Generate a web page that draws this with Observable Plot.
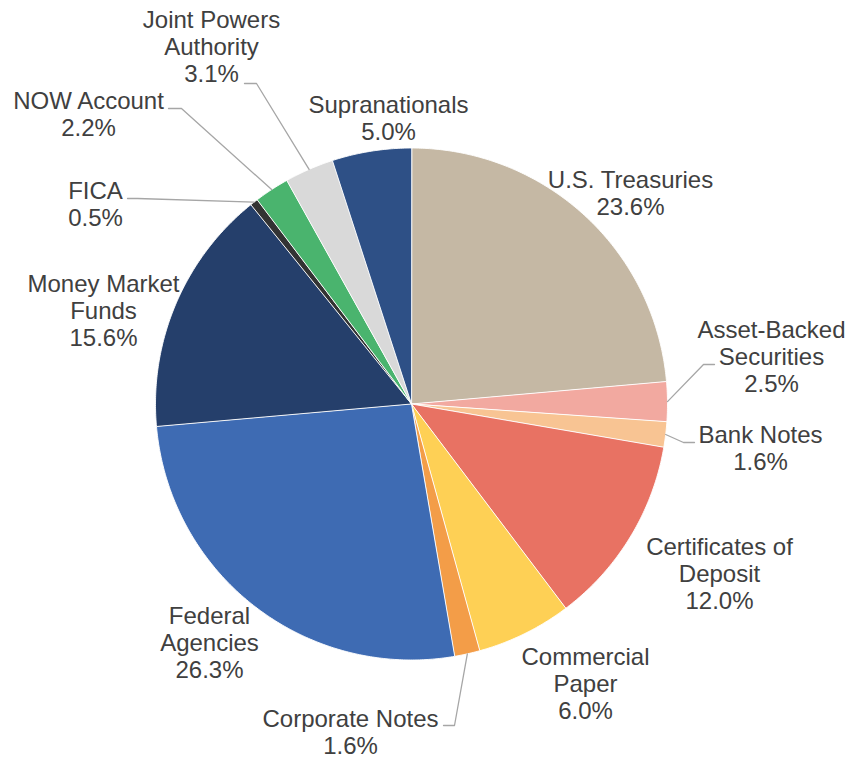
<!DOCTYPE html>
<html>
<head>
<meta charset="utf-8">
<script src="https://cdn.jsdelivr.net/npm/d3@7"></script>
<script src="https://cdn.jsdelivr.net/npm/@observablehq/plot@0.6"></script>
<style>
  html, body { margin: 0; padding: 0; background: #ffffff; }
  #chart svg { display: block; }
</style>
</head>
<body>
<div id="chart"></div>
<script>
// ---- Data ----
const categories = [
  "U.S. Treasuries", "Asset-Backed Securities", "Bank Notes", "Certificates of Deposit",
  "Commercial Paper", "Corporate Notes", "Federal Agencies", "Money Market Funds",
  "FICA", "NOW Account", "Joint Powers Authority", "Supranationals"
];
const shares = [23.6, 2.5, 1.6, 12.0, 6.0, 1.6, 26.3, 15.6, 0.5, 2.2, 3.1, 5.0];
const labelLines = [
  ["U.S. Treasuries"], ["Asset-Backed", "Securities"], ["Bank Notes"], ["Certificates of", "Deposit"],
  ["Commercial", "Paper"], ["Corporate Notes"], ["Federal", "Agencies"], ["Money Market", "Funds"],
  ["FICA"], ["NOW Account"], ["Joint Powers", "Authority"], ["Supranationals"]
];

// ---- Styles / layout ----
const colors = [
  "#C5B8A4", "#F2A9A0", "#F8C493", "#E87263", "#FED055", "#F39D48",
  "#3E6BB3", "#253F6B", "#333333", "#4AB46E", "#D9D9D9", "#2E5086"
];
const W = 848, H = 757;
const cx = 411, cy = 403.5, R = 256;
// label anchor: [centerX, lastBaselineY]
const labelPos = [
  [630, 214], [771, 391], [760, 469], [719, 608],
  [585, 718], [350, 753], [209, 677], [103, 345],
  [95, 225], [88, 135], [211, 81], [388, 139]
];
// leader lines: [startX, startY, elbowX, elbowY] (end computed at slice edge)
const leaderLayout = {
  1: [714, 364, 703, 364],
  2: [694, 442, 683, 442],
  5: [443, 725, 454, 725],
  8: [127, 198, 137, 198],
  9: [168, 108, 181, 108],
  10: [244, 83, 256, 83]
};

// ---- Build geometry ----
const arcs = d3.pie().sort(null).value(d => d)(shares);
const pt = (a, r) => [cx + r * Math.sin(a), cy - r * Math.cos(a)];

const slicePts = [];
arcs.forEach((a, i) => {
  const name = categories[i];
  slicePts.push({name, x: cx, y: cy});
  const n = Math.max(4, Math.ceil((a.endAngle - a.startAngle) / (Math.PI / 360)));
  for (let k = 0; k <= n; k++) {
    const ang = a.startAngle + (a.endAngle - a.startAngle) * k / n;
    const [x, y] = pt(ang, R);
    slicePts.push({name, x, y});
  }
});

const fmt = d3.format(".1f");
const labels = categories.map((c, i) => ({
  name: c,
  x: labelPos[i][0],
  y: labelPos[i][1],
  text: labelLines[i].join("\n") + "\n" + fmt(shares[i]) + "%"
}));

const leaders = [];
Object.entries(leaderLayout).forEach(([k, L]) => {
  const i = +k;
  const mid = (arcs[i].startAngle + arcs[i].endAngle) / 2;
  const [ex, ey] = pt(mid, R);
  leaders.push({id: i, x: L[0], y: L[1]});
  leaders.push({id: i, x: L[2], y: L[3]});
  leaders.push({id: i, x: ex, y: ey});
});

const chart = Plot.plot({
  width: W,
  height: H,
  margin: 0,
  style: {fontFamily: "Arial, 'Liberation Sans', sans-serif", background: "#ffffff"},
  x: {domain: [0, W], range: [0, W], axis: null},
  y: {domain: [0, H], range: [0, H], axis: null},
  color: {domain: categories, range: colors},
  marks: [
    Plot.line(slicePts, {
      x: "x", y: "y", z: "name", fill: "name",
      stroke: "#ffffff", strokeWidth: 1, strokeOpacity: 0.9,
      curve: "linear-closed"
    }),
    Plot.line(leaders, {
      x: "x", y: "y", z: "id", stroke: "#A6A6A6", strokeWidth: 1.3
    }),
    Plot.text(labels, {
      x: "x", y: "y", text: "text",
      fontSize: 24, lineHeight: 27 / 24, lineAnchor: "bottom",
      textAnchor: "middle", fill: "#404040"
    })
  ]
});
document.getElementById("chart").appendChild(chart);
</script>
</body>
</html>
